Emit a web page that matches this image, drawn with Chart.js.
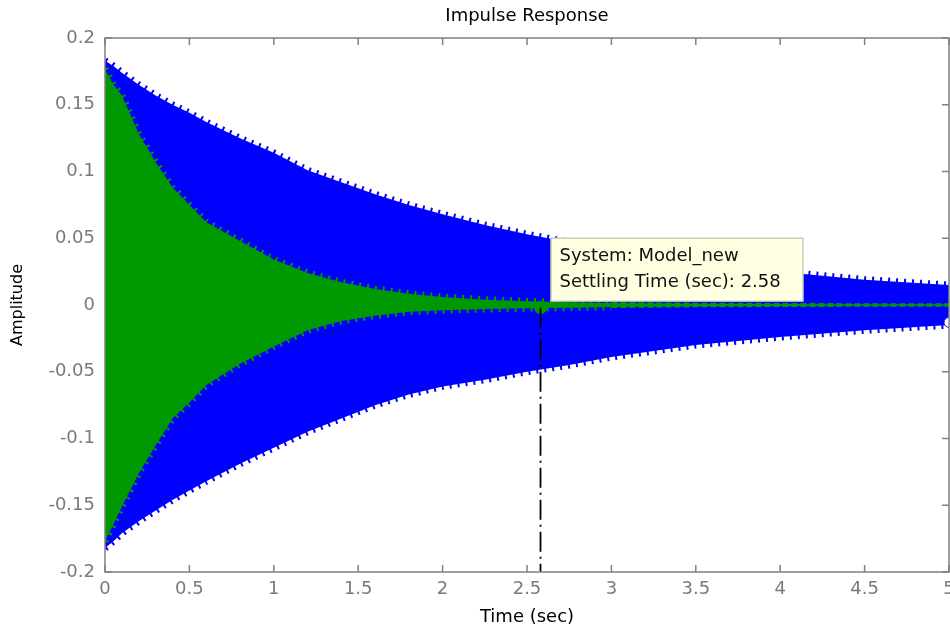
<!DOCTYPE html>
<html><head><meta charset="utf-8">
<script src="https://cdn.jsdelivr.net/npm/chart.js@4/dist/chart.umd.min.js"></script>
<style>html,body{margin:0;padding:0;background:#fff}#wrap{width:950px;height:629px;position:relative}</style>
</head><body><div id="wrap"><canvas id="c" width="950" height="629"></canvas></div>
<script>
// ---- data ----
const timeSec    = [0, 0.05, 0.1, 0.2, 0.3, 0.4, 0.5, 0.6, 0.8, 1.0, 1.2, 1.4, 1.6, 1.8, 2.0, 2.25, 2.5, 2.75, 3.0, 3.5, 4.0, 4.5, 5.0];
// blue response envelope (original model)
const blueUpper  = [0.183, 0.179, 0.174, 0.165, 0.157, 0.150, 0.144, 0.137, 0.125, 0.114, 0.101, 0.092, 0.083, 0.075, 0.068, 0.060, 0.053, 0.047, 0.041, 0.032, 0.025, 0.019, 0.015];
const blueLower  = [-0.182, -0.177, -0.171, -0.162, -0.154, -0.146, -0.139, -0.132, -0.119, -0.107, -0.095, -0.085, -0.075, -0.067, -0.061, -0.056, -0.050, -0.045, -0.039, -0.030, -0.024, -0.019, -0.015];
// green response envelope (Model_new)
const greenUpper = [0.177, 0.165, 0.157, 0.128, 0.107, 0.088, 0.075, 0.062, 0.048, 0.034, 0.024, 0.017, 0.012, 0.0085, 0.006, 0.004, 0.0028, 0.002, 0.0015, 0.001, 0.0008, 0.0006, 0.0005];
const greenLower = [-0.177, -0.164, -0.151, -0.126, -0.105, -0.085, -0.073, -0.060, -0.044, -0.031, -0.019, -0.012, -0.008, -0.005, -0.004, -0.003, -0.0025, -0.002, -0.0015, -0.001, -0.0008, -0.0006, -0.0005];
const settlingTime  = 2.58;
const settlingValue = -0.002;
const endMarkerTime = 5;
const endMarkerValue = -0.013;
const xTickValues = [0, 0.5, 1, 1.5, 2, 2.5, 3, 3.5, 4, 4.5, 5];
const xTickLabels = ['0', '0.5', '1', '1.5', '2', '2.5', '3', '3.5', '4', '4.5', '5'];
const yTickValues = [-0.2, -0.15, -0.1, -0.05, 0, 0.05, 0.1, 0.15, 0.2];
const yTickLabels = ['-0.2', '-0.15', '-0.1', '-0.05', '0', '0.05', '0.1', '0.15', '0.2'];
const annotationLines = ['System: Model_new', 'Settling Time (sec): ' + settlingTime];

const FONT = 'DejaVu Sans';
const BLUE = '#0000ff', GREEN = '#009900', AXIS = '#808080';
const pts = arr => timeSec.map((t, i) => ({x: t, y: arr[i]}));

// envelope edge style: a thick dashed stroke gives the oscillation "teeth" look
const edge = (color, fillTarget, order, thinAfter) => ({
  borderColor: color, backgroundColor: color, fill: fillTarget, order,
  borderWidth: 7, borderDash: [2, 6], borderCapStyle: 'butt',
  pointRadius: 0, tension: 0,
  segment: thinAfter ? {
    borderWidth: c => c.p0.parsed.x >= thinAfter ? 2 : 7,
    borderDash: c => c.p0.parsed.x >= thinAfter ? [6, 3] : [2, 6]
  } : undefined
});

const framePlugin = {
  id: 'frame',
  beforeDatasetsDraw(chart) {
    const {ctx, chartArea: a, scales: {x, y}} = chart;
    ctx.save();
    ctx.strokeStyle = AXIS; ctx.lineWidth = 1.5;
    ctx.beginPath();
    const L = 7;
    xTickValues.forEach(v => { const px = x.getPixelForValue(v);
      ctx.moveTo(px, a.bottom); ctx.lineTo(px, a.bottom - L);
      ctx.moveTo(px, a.top); ctx.lineTo(px, a.top + L); });
    yTickValues.forEach(v => { const py = y.getPixelForValue(v);
      ctx.moveTo(a.left, py); ctx.lineTo(a.left + L, py);
      ctx.moveTo(a.right, py); ctx.lineTo(a.right - L, py); });
    ctx.stroke();
    ctx.restore();
  },
  afterDatasetsDraw(chart) {
    const {ctx, chartArea: a} = chart;
    ctx.save();
    ctx.strokeStyle = AXIS; ctx.lineWidth = 1.5;
    ctx.strokeRect(a.left, a.top, a.right - a.left, a.bottom - a.top);
    ctx.restore();
  },
  afterDraw(chart) {
    const {ctx, scales: {x, y}} = chart;
    const mx = x.getPixelForValue(settlingTime), my = y.getPixelForValue(settlingValue);
    const left = mx + 10, top = my - 70, w = 253, h = 64;
    ctx.save();
    ctx.fillStyle = '#ffffe1';
    ctx.fillRect(left, top, w, h);
    ctx.strokeStyle = '#b0b0b0'; ctx.lineWidth = 1;
    ctx.strokeRect(left + 0.5, top + 0.5, w - 1, h - 1);
    ctx.fillStyle = '#111';
    ctx.font = '18px "' + FONT + '"';
    ctx.textBaseline = 'middle';
    ctx.textAlign = 'left';
    ctx.fillText(annotationLines[0], left + 9, top + 19);
    ctx.fillText(annotationLines[1], left + 9, top + 45);
    ctx.restore();
  }
};

new Chart(document.getElementById('c'), {
  type: 'line',
  data: {
    datasets: [
      Object.assign({data: pts(greenUpper)}, edge(GREEN, '+1', 1, 3)),
      Object.assign({data: pts(greenLower)}, edge(GREEN, false, 1, 3)),
      Object.assign({data: pts(blueUpper)}, edge(BLUE, '+1', 2, 0)),
      Object.assign({data: pts(blueLower)}, edge(BLUE, false, 2, 0)),
      {data: [{x: settlingTime, y: settlingValue}, {x: settlingTime, y: -0.2}], borderColor: '#000', borderWidth: 1.8, borderDash: [20, 5, 2, 5], fill: false, pointRadius: 0, order: 0},
      {data: [{x: settlingTime, y: settlingValue}], showLine: false, pointRadius: 6, pointBackgroundColor: GREEN, pointBorderColor: GREEN, order: 0},
      {data: [{x: endMarkerTime, y: endMarkerValue}], showLine: false, pointRadius: 5, pointBackgroundColor: '#fff', pointBorderColor: BLUE, pointBorderWidth: 1, order: 0}
    ]
  },
  options: {
    responsive: false, animation: false, devicePixelRatio: 1,
    layout: {autoPadding: false, padding: {left: 0, right: 1, top: 0, bottom: 0}},
    plugins: {
      legend: {display: false}, tooltip: {enabled: false},
      title: {display: true, text: 'Impulse Response', fullSize: false, color: '#000',
              font: {family: FONT, size: 18, weight: 'normal', lineHeight: 1}, padding: {top: 7, bottom: 13}}
    },
    scales: {
      x: {
        type: 'linear', min: 0, max: 5,
        afterBuildTicks: s => { s.ticks = xTickValues.map(v => ({value: v})); },
        afterFit: s => { s.height = 57; s.paddingLeft = 0; s.paddingRight = 0; },
        ticks: {callback: (v, i) => xTickLabels[i], color: '#7a7a7a', font: {family: FONT, size: 18}, padding: 7, maxRotation: 0, autoSkip: false},
        grid: {display: false, drawTicks: false}, border: {display: false},
        title: {display: true, text: 'Time (sec)', color: '#000', font: {family: FONT, size: 18, lineHeight: 1}, padding: {top: 0, bottom: 3}}
      },
      y: {
        type: 'linear', min: -0.2, max: 0.2,
        afterBuildTicks: s => { s.ticks = yTickValues.map(v => ({value: v})); },
        afterFit: s => { s.width = 105; s.paddingTop = 0; s.paddingBottom = 0; },
        ticks: {callback: (v, i) => yTickLabels[i], color: '#7a7a7a', font: {family: FONT, size: 18}, padding: 10, autoSkip: false},
        grid: {display: false, drawTicks: false}, border: {display: false},
        title: {display: true, text: 'Amplitude', color: '#000', font: {family: FONT, size: 16, lineHeight: 1}, padding: {top: 10, bottom: 0}}
      }
    }
  },
  plugins: [framePlugin]
});
</script></body></html>
